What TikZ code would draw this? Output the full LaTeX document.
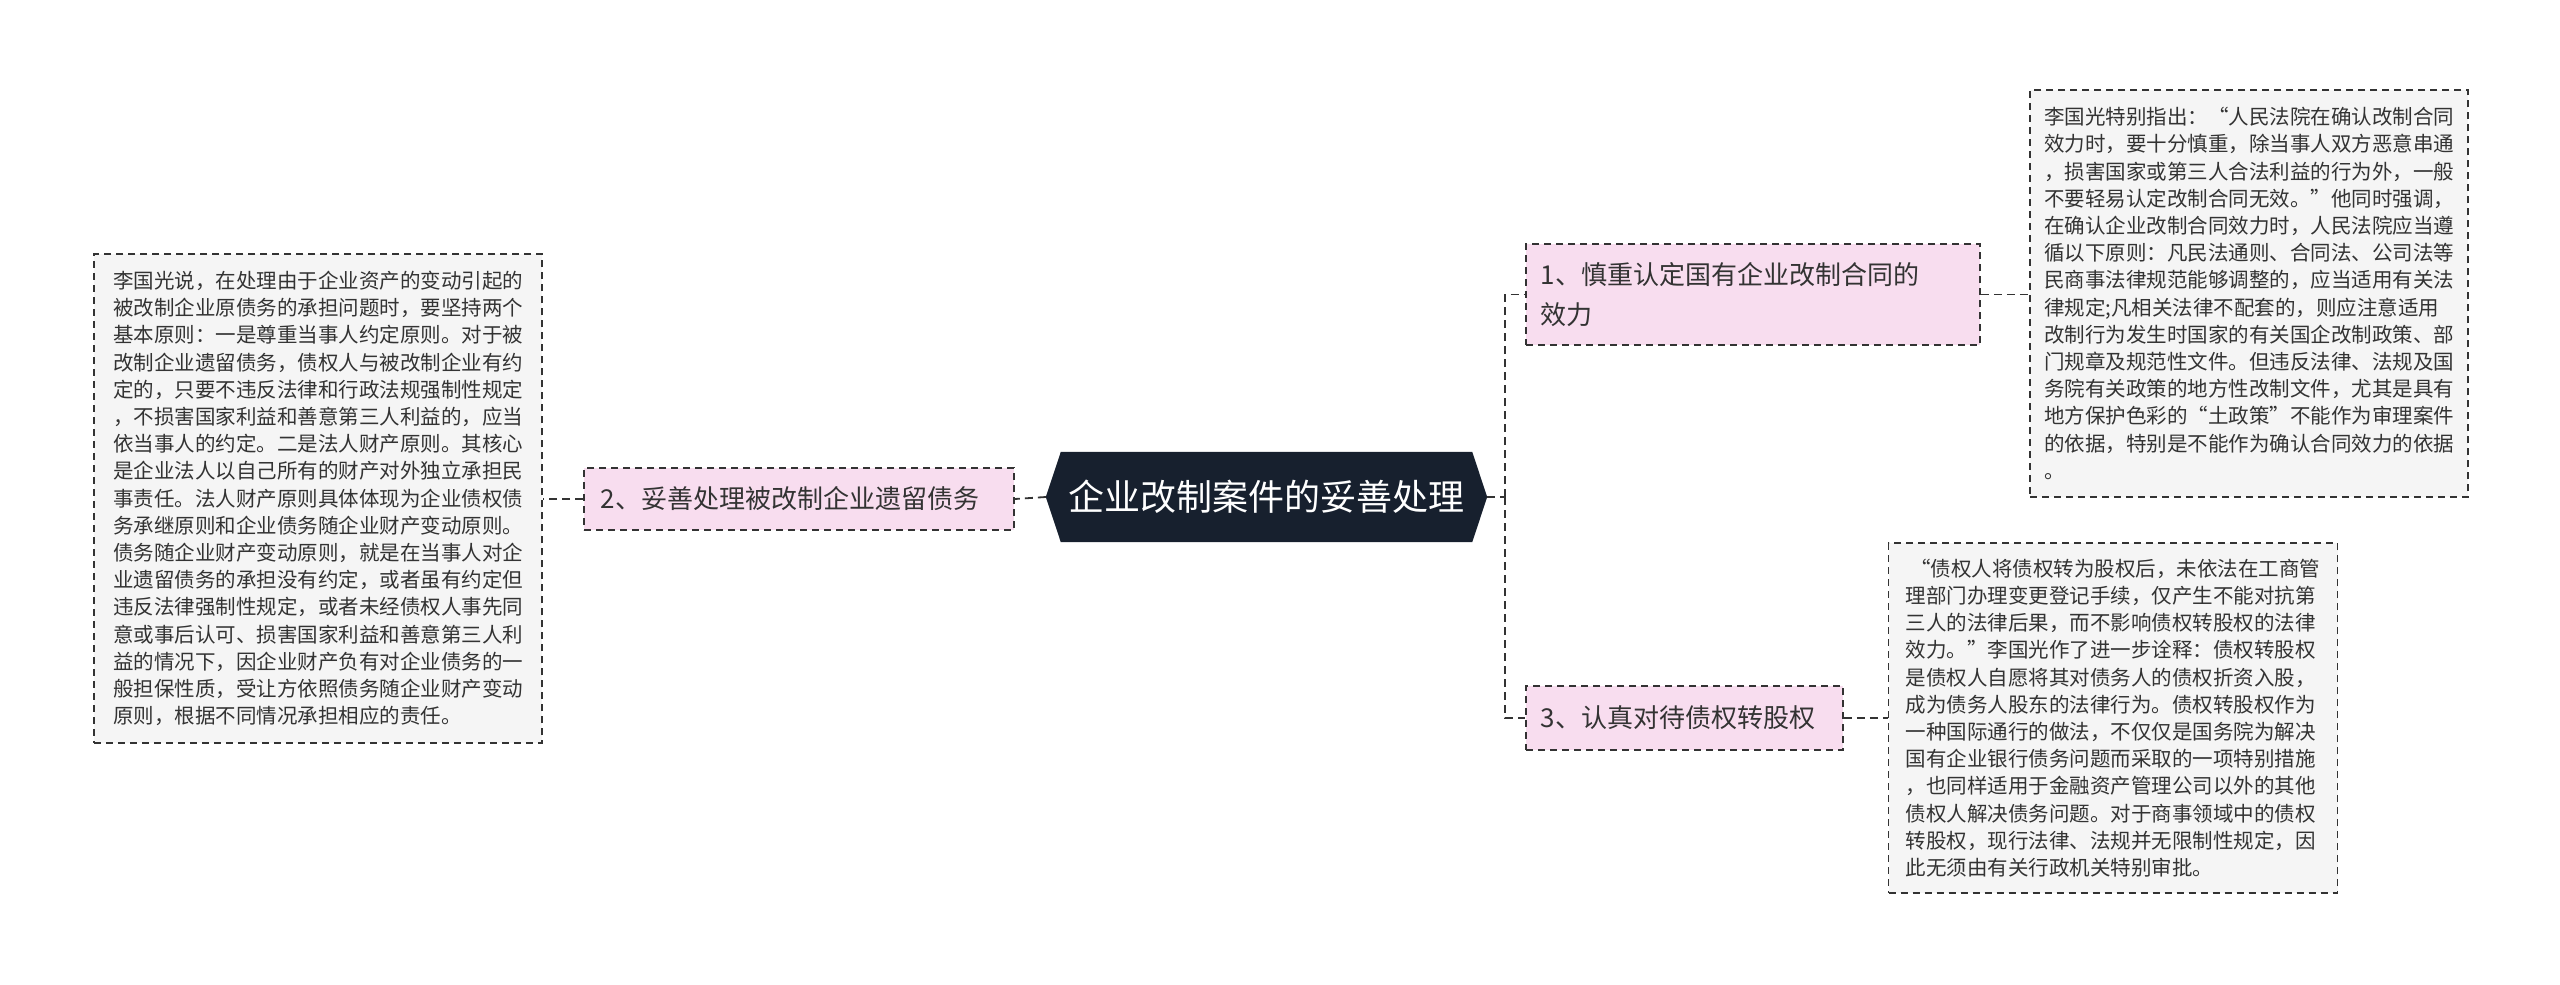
\documentclass[tikz,border=0pt]{standalone}
\usepackage{fontspec}
\newfontfamily\cjk{Noto Sans CJK SC}
\definecolor{txt}{HTML}{333333}
\definecolor{pinkf}{HTML}{F8DDEF}
\definecolor{leaff}{HTML}{F5F5F5}
\definecolor{edgec}{HTML}{333333}
\definecolor{darkc}{HTML}{17202E}
\tikzset{
 leaf/.style={draw=edgec, fill=leaff, line width=1.6pt, dash pattern=on 7pt off 5pt, inner sep=0pt, text=txt, align=left, font=\cjk\fontsize{20.5}{27.2}\selectfont, anchor=center},
 sub/.style={draw=edgec, fill=pinkf, line width=1.6pt, dash pattern=on 7pt off 5pt, inner sep=0pt, text=txt, align=left, font=\cjk\fontsize{26}{40}\selectfont},
 link/.style={draw=edgec, line width=1.8pt, dash pattern=on 8pt off 5pt},
}
\begin{document}
\begin{tikzpicture}[x=1pt,y=-1pt]
\useasboundingbox (0,0) rectangle (2560,985);
% center
\node[minimum width=441pt, minimum height=90pt, inner sep=0pt] (c) at (1266.5,497) {};
\fill[darkc] ([xshift=15pt]c.north west) -- ([xshift=-15pt]c.north east) -- (c.east) -- ([xshift=-15pt]c.south east) -- ([xshift=15pt]c.south west) -- (c.west) -- cycle;
\node[text=white, font=\cjk\fontsize{36}{40}\selectfont] at (c.center) {企业改制案件的妥善处理};
% sub nodes
\node[sub, minimum width=430pt, minimum height=62pt] (n2) at (799,499) {};
\node[text=txt, font=\cjk\fontsize{26}{40}\selectfont, anchor=west] at ([xshift=14pt]n2.west) {2、妥善处理被改制企业遗留债务};
\node[sub, minimum width=454pt, minimum height=101pt] (n1) at (1753,294.5) {};
\node[text=txt, font=\cjk\fontsize{26}{40}\selectfont, align=left, anchor=west] at ([xshift=12pt]n1.west) {1、慎重认定国有企业改制合同的\\效力};
\node[sub, minimum width=317pt, minimum height=64pt] (n3) at (1684.5,718) {};
\node[text=txt, font=\cjk\fontsize{26}{40}\selectfont, anchor=west] at ([xshift=12pt]n3.west) {3、认真对待债权转股权};
% leaves
\node[leaf, minimum width=448pt, minimum height=489pt] (l2) at (318,498.5) {};
\node[text=txt, align=left, font=\cjk\fontsize{20.5}{27.2}\selectfont] at (l2.center) {李国光说，在处理由于企业资产的变动引起的\\被改制企业原债务的承担问题时，要坚持两个\\基本原则：一是尊重当事人约定原则。对于被\\改制企业遗留债务，债权人与被改制企业有约\\定的，只要不违反法律和行政法规强制性规定\\，不损害国家利益和善意第三人利益的，应当\\依当事人的约定。二是法人财产原则。其核心\\是企业法人以自己所有的财产对外独立承担民\\事责任。法人财产原则具体体现为企业债权债\\务承继原则和企业债务随企业财产变动原则。\\债务随企业财产变动原则，就是在当事人对企\\业遗留债务的承担没有约定，或者虽有约定但\\违反法律强制性规定，或者未经债权人事先同\\意或事后认可、损害国家利益和善意第三人利\\益的情况下，因企业财产负有对企业债务的一\\般担保性质，受让方依照债务随企业财产变动\\原则，根据不同情况承担相应的责任。};
\node[leaf, minimum width=438pt, minimum height=407pt] (l1) at (2249,293.5) {};
\node[text=txt, align=left, font=\cjk\fontsize{20.5}{27.2}\selectfont] at (l1.center) {李国光特别指出：“人民法院在确认改制合同\\效力时，要十分慎重，除当事人双方恶意串通\\，损害国家或第三人合法利益的行为外，一般\\不要轻易认定改制合同无效。”他同时强调，\\在确认企业改制合同效力时，人民法院应当遵\\循以下原则：凡民法通则、合同法、公司法等\\民商事法律规范能够调整的，应当适用有关法\\律规定;凡相关法律不配套的，则应注意适用\\改制行为发生时国家的有关国企改制政策、部\\门规章及规范性文件。但违反法律、法规及国\\务院有关政策的地方性改制文件，尤其是具有\\地方保护色彩的“土政策”不能作为审理案件\\的依据，特别是不能作为确认合同效力的依据\\。};
\node[leaf, minimum width=449pt, minimum height=350pt] (l3) at (2113,718) {};
\node[text=txt, align=left, font=\cjk\fontsize{20.5}{27.2}\selectfont] at (l3.center) {\ “债权人将债权转为股权后，未依法在工商管\\理部门办理变更登记手续，仅产生不能对抗第\\三人的法律后果，而不影响债权转股权的法律\\效力。”李国光作了进一步诠释：债权转股权\\是债权人自愿将其对债务人的债权折资入股，\\成为债务人股东的法律行为。债权转股权作为\\一种国际通行的做法，不仅仅是国务院为解决\\国有企业银行债务问题而采取的一项特别措施\\，也同样适用于金融资产管理公司以外的其他\\债权人解决债务问题。对于商事领域中的债权\\转股权，现行法律、法规并无限制性规定，因\\此无须由有关行政机关特别审批。};
% connectors
\coordinate (t) at (1505,497);
\draw[link] (c.east) -- (t);
\draw[link] (t) |- (n1.west);
\draw[link] (t) |- (n3.west);
\draw[link] (c.west) -- (n2.east);
\draw[link] (n2.west) -- (l2.east |- n2.west);
\draw[link] (n1.east) -- (l1.west |- n1.east);
\draw[link] (n3.east) -- (l3.west |- n3.east);
\end{tikzpicture}
\end{document}
